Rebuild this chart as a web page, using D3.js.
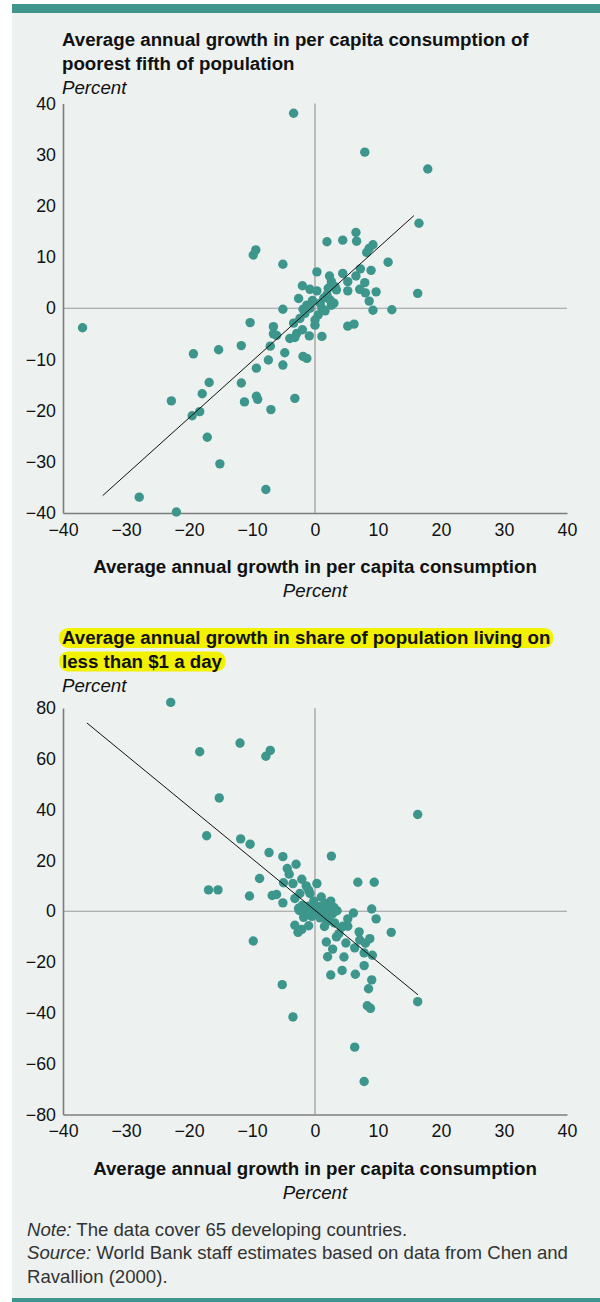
<!DOCTYPE html>
<html><head><meta charset="utf-8">
<script src="https://cdn.jsdelivr.net/npm/d3@7"></script>
<style>body{margin:0;background:#fff;} svg{display:block;}</style>
</head><body>
<svg id="c" width="600" height="1302"></svg>
<script>
// ---- data ----
const xTicks = [-40, -30, -20, -10, 0, 10, 20, 30, 40];
const topYTicks = [-40, -30, -20, -10, 0, 10, 20, 30, 40];
const bottomYTicks = [-80, -60, -40, -20, 0, 20, 40, 60, 80];

const topTitle = ["Average annual growth in per capita consumption of", "poorest fifth of population"];
const bottomTitle = ["Average annual growth in share of population living on", "less than $1 a day"];
const xTitle = "Average annual growth in per capita consumption";
const unitLabel = "Percent";

// top panel: growth in mean consumption (x) vs growth of poorest fifth (y)
const topGrowth = [-3.4, 7.9, 17.9, 16.5, -9.4, -9.8, -5.1, 1.9, 4.4, 6.5, 6.6, 9.2, 8.6, 8.2, 11.6,
  7.2, 8.9, 0.3, 4.4, 2.3, 6.5, -2.0, -0.8, 0.3, 2.6, 3.2, 3.4, 5.2, 5.2, 7.9, 7.1, 8.0, 9.7, 8.6, 16.3,
  2.1, 1.9, 2.4, 2.6, -2.6, -1.3, -1.9, -0.8, 1.1, 1.6, -5.1, 9.2, 12.2,
  0.5, 0.0, -2.4, -3.4, 0.0, 5.2, 6.2, -6.6, -2.0, -2.9, -6.6, -4.0, -3.2, -0.9, 1.1, -7.1, -4.8, -1.9, -1.3, -7.4, -5.1,
  -36.9, -10.3, -6.1, -11.7, -19.3, -15.3, -9.3, -16.8, -11.7, -17.9, -22.8, -9.3, -9.1, -11.2, -3.2, -7.0, -18.3, -19.5, -17.1, -15.1, -7.8, -27.9, -22.0,
  0.8, 1.4, -0.4, 3.0, -1.6];
const topPoorest = [38.1, 30.5, 27.2, 16.6, 11.4, 10.4, 8.6, 13.0, 13.3, 14.8, 13.1, 12.4, 11.7, 10.9, 9.0,
  7.7, 7.4, 7.1, 6.8, 6.3, 6.3, 4.4, 3.7, 3.4, 5.2, 4.2, 3.6, 5.2, 3.4, 5.0, 3.7, 3.0, 3.2, 1.4, 2.9,
  3.9, 2.6, 1.6, 0.6, 1.9, 0.6, -0.2, 0.0, 0.0, -0.5, -0.2, -0.4, -0.3,
  -1.3, -2.3, -2.0, -2.9, -3.3, -3.5, -3.1, -3.6, -4.2, -4.9, -5.0, -5.9, -5.7, -5.4, -5.5, -7.4, -8.7, -9.4, -9.8, -10.1, -11.1,
  -3.8, -2.8, -5.3, -7.3, -8.9, -8.1, -11.7, -14.5, -14.6, -16.7, -18.1, -17.2, -17.8, -18.3, -17.6, -19.8, -20.2, -21.0, -25.2, -30.4, -35.4, -36.9, -39.8,
  1.0, 2.0, 1.5, 1.0, -1.0];
const topFitX = [-33.7, 15.7];
const topFitY = [-36.6, 18.1];

// bottom panel: growth in mean consumption (x) vs growth in $1-a-day poverty share (y)
const bottomGrowth = [-22.9, -18.3, -11.9, -7.8, -7.1, -15.2, 16.3,
  -17.2, -11.8, -10.3, -7.3, -5.1, 2.6, -3.0, -4.4, -4.1, -8.8, -2.1, -5.0, -3.5, -1.4, 0.3, 6.8, 9.4, -1.0,
  -16.9, -15.4, -10.4, -6.8, -6.1, -5.1, -3.2, -2.4, -0.8, 1.0, 2.5,
  -2.0, -1.0, 0.0, 1.0, 2.0, 3.0, -2.5, -1.5, -0.5, 0.5, 1.5, 2.8, -1.8, -0.5, 0.8, 1.8, -2.6, -0.2, 1.6, 0.2, -1.2, 2.2, 3.5,
  6.1, 9.0, 9.7, 5.2, 4.4, 5.2, 12.1, 7.0, 1.5, -3.2, -2.7, -2.1, -1.0, 2.1, 3.1, 4.2, 3.8, 3.4,
  -9.8, 1.8, 4.9, 7.1, 8.7, 8.0, 6.3, 2.8, 2.0, 4.6, 7.8, 9.1, 7.8, 6.4, 4.3, 2.5, 9.0, 8.5, -5.2, -3.5, 8.3, 8.8, 6.3, 7.8, 16.3];
const bottomPoverty = [82.2, 62.8, 66.2, 61.0, 63.3, 44.6, 38.1,
  29.7, 28.5, 26.4, 23.1, 21.5, 21.7, 18.5, 16.8, 14.6, 12.9, 12.6, 11.2, 10.9, 10.0, 10.9, 11.4, 11.4, 8.3,
  8.4, 8.4, 6.0, 6.2, 6.6, 3.3, 5.0, 7.0, 7.0, 5.6, 4.0,
  2.3, 2.0, 2.3, 2.0, 1.8, 1.5, 0.3, -0.5, 0.2, -0.3, -0.8, -1.0, -2.4, -2.0, -2.6, -3.0, 1.2, 4.0, 3.0, 1.0, -1.2, -2.0, 0.2,
  -0.7, 0.9, -3.0, -3.0, -5.9, -5.9, -8.3, -8.1, -6.0, -5.5, -8.3, -7.2, -5.7, -3.8, -4.6, -6.4, -8.8, -10.1,
  -11.7, -12.1, -12.5, -11.3, -10.8, -12.6, -14.4, -14.9, -17.9, -18.0, -16.4, -17.3, -21.4, -24.8, -23.3, -25.1, -27.0, -30.5, -28.9, -41.6, -37.2, -38.2, -53.5, -67.0, -35.6];
const bottomFitX = [-36.2, 16.35];
const bottomFitY = [74.1, -32.9];

const noteLines = [["Note:", " The data cover 65 developing countries."],
                   ["Source:", " World Bank staff estimates based on data from Chen and"],
                   ["", "Ravallion (2000)."]];

// ---- drawing ----
const FONT = "'Liberation Sans', Arial, Helvetica, sans-serif";
const TEAL = "#3d968b";
const svg = d3.select("#c").style("font-family", FONT);

svg.append("rect").attr("x", 12).attr("y", 12).attr("width", 588).attr("height", 1287).attr("fill", "#edf1f0");
svg.append("rect").attr("x", 12).attr("y", 4).attr("width", 588).attr("height", 9).attr("fill", "#3f958b");
svg.append("rect").attr("x", 12).attr("y", 1298).attr("width", 588).attr("height", 4).attr("fill", "#3f958b");

const x = d3.scaleLinear().domain([-40, 40]).range([63, 567]);
const fmt = d => (d < 0 ? "\u2212" + Math.abs(d) : String(d));
const TS = 18.7;

function panel(cfg) {
  const y = d3.scaleLinear().domain(cfg.yDomain).range(cfg.yRange);
  const g = svg.append("g");

  // title
  const tg = g.append("g");
  const titles = cfg.title.map((t, i) => tg.append("text")
    .attr("x", 62).attr("y", cfg.titleY + i * 23.5)
    .attr("font-size", TS).attr("font-weight", "bold").attr("fill", "#111").text(t));
  if (cfg.highlight) {
    titles.forEach(t => {
      const b = t.node().getBBox();
      tg.insert("rect", "text").attr("x", b.x - 3).attr("y", b.y + 1).attr("width", b.width + 6)
        .attr("height", b.height - 1).attr("rx", 9).attr("fill", "#f2f200");
    });
  }
  g.append("text").attr("x", 62).attr("y", cfg.titleY + 2 * 23.5 + 0.5)
    .attr("font-size", TS).attr("font-style", "italic").attr("fill", "#111").text(unitLabel);

  const [y0, y1] = cfg.yRange;
  // zero lines
  g.append("line").attr("x1", x(0)).attr("x2", x(0)).attr("y1", y1).attr("y2", y0)
    .attr("stroke", "#9a9a9a").attr("stroke-width", 1.2);
  g.append("line").attr("x1", x(-40)).attr("x2", x(40)).attr("y1", y(0)).attr("y2", y(0))
    .attr("stroke", "#9a9a9a").attr("stroke-width", 1.2);

  // axes
  const ya = g.append("g").attr("transform", `translate(${x(-40)},0)`)
    .call(d3.axisLeft(y).tickValues(cfg.yTicks).tickFormat(fmt).tickSize(0).tickPadding(7));
  const xa = g.append("g").attr("transform", `translate(0,${y0})`)
    .call(d3.axisBottom(x).tickValues(xTicks).tickFormat(fmt).tickSize(0).tickPadding(10));
  [ya, xa].forEach(a => {
    a.select(".domain").attr("stroke", "#7d7d7d").attr("stroke-width", 1.6);
    a.selectAll("text").attr("font-size", 17.8).attr("fill", "#111").style("font-family", FONT);
  });

  // points
  g.append("g").selectAll("circle").data(cfg.xs.map((v, i) => [v, cfg.ys[i]])).join("circle")
    .attr("cx", d => x(d[0])).attr("cy", d => y(d[1])).attr("r", 4.7).attr("fill", TEAL);

  // fitted line
  const fit = cfg.fitX.map((v, i) => [v, cfg.fitY[i]]);
  g.append("path").datum(fit).attr("d", d3.line().x(d => x(d[0])).y(d => y(d[1])))
    .attr("stroke", "#111").attr("stroke-width", 1).attr("fill", "none");

  // x title
  g.append("text").attr("x", x(0)).attr("y", y0 + 60).attr("text-anchor", "middle")
    .attr("font-size", TS).attr("font-weight", "bold").attr("fill", "#111").text(xTitle);
  g.append("text").attr("x", x(0)).attr("y", y0 + 84).attr("text-anchor", "middle")
    .attr("font-size", TS).attr("font-style", "italic").attr("fill", "#111").text(unitLabel);
}

panel({ title: topTitle, titleY: 46, highlight: false, yDomain: [-40, 40], yRange: [513, 103.5],
  yTicks: topYTicks, xs: topGrowth, ys: topPoorest, fitX: topFitX, fitY: topFitY });
panel({ title: bottomTitle, titleY: 644, highlight: true, yDomain: [-80, 80], yRange: [1114.5, 708],
  yTicks: bottomYTicks, xs: bottomGrowth, ys: bottomPoverty, fitX: bottomFitX, fitY: bottomFitY });

// notes
const ng = svg.append("g");
noteLines.forEach((ln, i) => {
  const t = ng.append("text").attr("x", 27).attr("y", 1236 + i * 23.3).attr("font-size", 18.6).attr("fill", "#333");
  if (ln[0]) t.append("tspan").attr("font-style", "italic").text(ln[0]);
  t.append("tspan").text(ln[1]);
});
</script>
</body></html>
